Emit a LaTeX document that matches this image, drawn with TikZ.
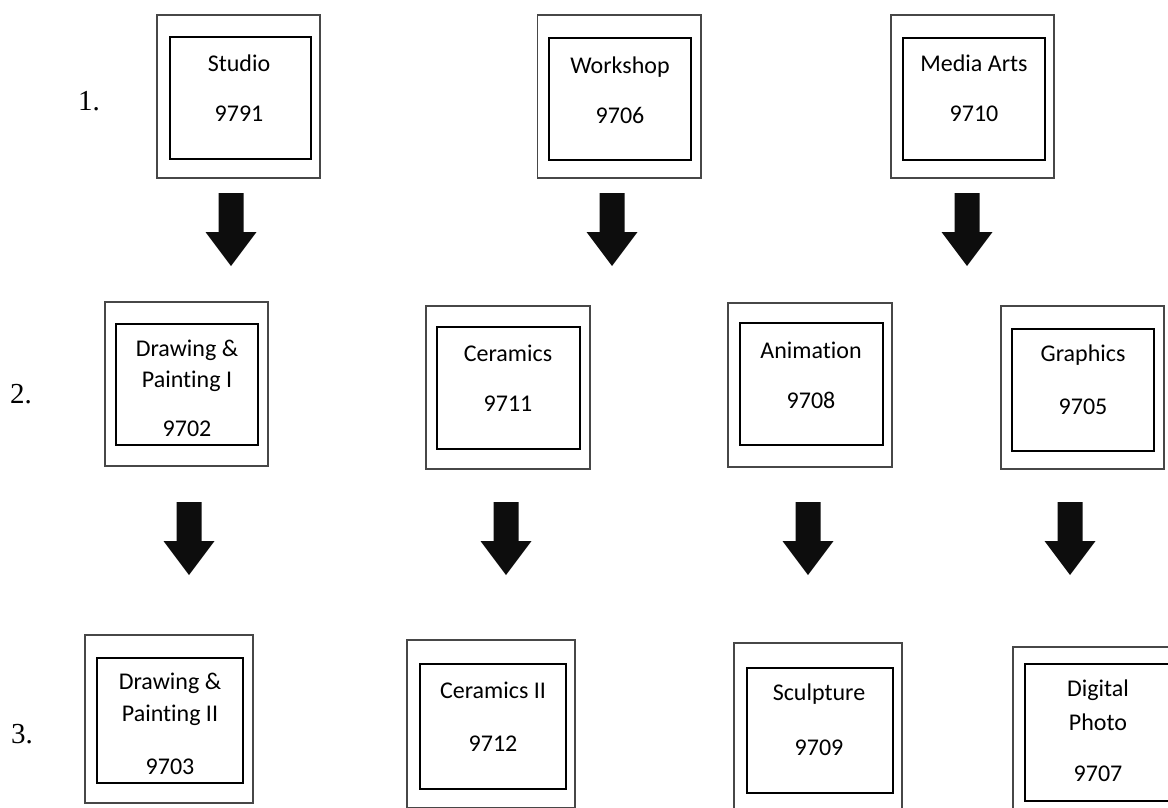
\documentclass[tikz,border=0pt]{standalone}
\usepackage{fontspec}
\setmainfont[Ligatures={NoCommon}]{Carlito}
\newfontfamily\timesf{Liberation Serif}
\begin{document}
\begin{tikzpicture}[x=1pt,y=-1pt,
  outerbox/.style={draw=black!72, line width=1.4pt, inner sep=0pt, outer sep=0pt, minimum width=163, minimum height=163},
  innerbox/.style={draw=black, line width=2.2pt, inner sep=0pt, outer sep=0pt, minimum width=142, minimum height=122},
  lbl/.style={font=\fontsize{24}{29}\selectfont, anchor=base, inner sep=0pt},
  rowlbl/.style={font=\timesf\fontsize{29}{34}\selectfont, anchor=base west, inner sep=0pt},
  blockarrow/.style={fill=black!95}]
\path[use as bounding box] (0,0) rectangle (1168,807);
\clip (0,0) rectangle (1168,807);

% row labels
\node[rowlbl] (r1) at (78,110) {1.};
\node[rowlbl] (r2) at (10,403) {2.};
\node[rowlbl] (r3) at (11,743) {3.};

% ---- row 1 ----
\node[outerbox] (oStudio) at (238.5,96.5) {};
\node[innerbox, minimum width=141] (iStudio) at (240.5,98) {};
\node[lbl] (tStudio) at (239,71) {Studio};
\node[lbl] (nStudio) at (239,121) {9791};

\node[outerbox, minimum width=163.5] (oWork) at (619.25,96.5) {};
\node[innerbox] (iWork) at (620,99) {};
\node[lbl] (tWork) at (620,73) {Workshop};
\node[lbl] (nWork) at (620,123) {9706};

\node[outerbox] (oMedia) at (972.5,96.5) {};
\node[innerbox] (iMedia) at (974,99) {};
\node[lbl] (tMedia) at (974,71) {Media Arts};
\node[lbl] (nMedia) at (974,121) {9710};

% ---- row 2 ----
\node[outerbox, minimum height=164] (oDP1) at (186.5,384) {};
\node[innerbox, minimum height=121] (iDP1) at (187,384.5) {};
\node[lbl] (tDP1a) at (187,356) {Drawing \&};
\node[lbl] (tDP1b) at (187,387) {Painting I};
\node[lbl] (nDP1) at (187,436) {9702};

\node[outerbox, minimum width=164] (oCer) at (508,387.5) {};
\node[innerbox, minimum width=143] (iCer) at (508.5,388) {};
\node[lbl] (tCer) at (508,361) {Ceramics};
\node[lbl] (nCer) at (508,411) {9711};

\node[outerbox, minimum width=164, minimum height=164] (oAnim) at (810,385) {};
\node[innerbox, minimum width=143] (iAnim) at (811.5,384) {};
\node[lbl] (tAnim) at (811,358) {Animation};
\node[lbl] (nAnim) at (811,408) {9708};

\node[outerbox] (oGraph) at (1082.5,387.5) {};
\node[innerbox] (iGraph) at (1083,390) {};
\node[lbl] (tGraph) at (1083,361) {Graphics};
\node[lbl] (nGraph) at (1083,414) {9705};

% ---- row 3 ----
\node[outerbox, minimum width=168, minimum height=168] (oDP2) at (169,719) {};
\node[innerbox, minimum width=146, minimum height=125] (iDP2) at (170,720.5) {};
\node[lbl] (tDP2a) at (170,689) {Drawing \&};
\node[lbl] (tDP2b) at (170,721) {Painting II};
\node[lbl] (nDP2) at (170,774) {9703};

\node[outerbox, minimum width=168, minimum height=168] (oCer2) at (491,724) {};
\node[innerbox, minimum width=146, minimum height=125] (iCer2) at (493,726.5) {};
\node[lbl] (tCer2) at (493,698) {Ceramics II};
\node[lbl] (nCer2) at (493,751) {9712};

\node[outerbox, minimum width=168, minimum height=168] (oSculp) at (818,727) {};
\node[innerbox, minimum width=146, minimum height=125] (iSculp) at (820,730.5) {};
\node[lbl] (tSculp) at (819,700) {Sculpture};
\node[lbl] (nSculp) at (819,755) {9709};

\node[outerbox, minimum width=168, minimum height=172] (oDig) at (1097,733) {};
\node[innerbox, minimum width=146, minimum height=137] (iDig) at (1098,732.5) {};
\node[lbl] (tDiga) at (1098,696) {Digital};
\node[lbl] (tDigb) at (1098,730) {Photo};
\node[lbl] (nDig) at (1098,781) {9707};

% ---- block arrows ----
\newcommand\blkarrow[3]{% tip x, top y, name
  \coordinate (#3) at (#1,#2);
  \fill[blockarrow] (#1-12.5,#2) -- (#1+12.5,#2) -- (#1+12.5,#2+39)
    -- (#1+25.5,#2+39) -- (#1,#2+73) -- (#1-25.5,#2+39) -- (#1-12.5,#2+39) -- cycle;}
\blkarrow{231}{193}{aStudio}
\blkarrow{612}{193}{aWork}
\blkarrow{967}{193}{aMedia}
\blkarrow{189}{502}{aDP1}
\blkarrow{506}{502}{aCer}
\blkarrow{808}{502}{aAnim}
\blkarrow{1070}{502}{aGraph}
\end{tikzpicture}
\end{document}
